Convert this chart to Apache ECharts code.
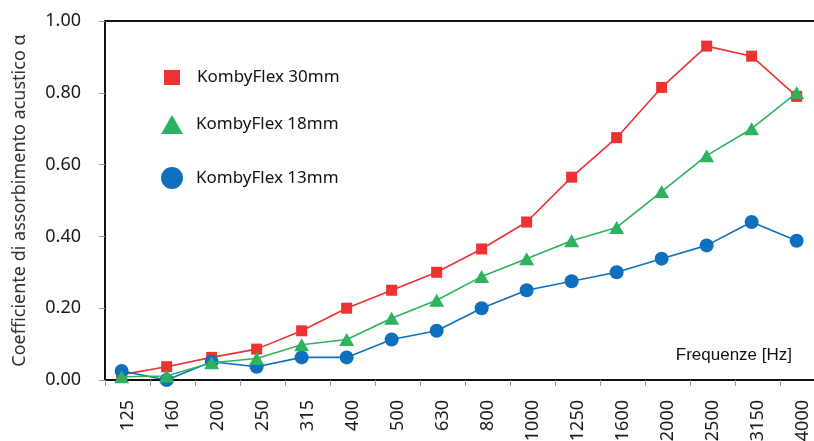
<!DOCTYPE html>
<html>
<head>
<meta charset="utf-8">
<script src="https://cdn.jsdelivr.net/npm/echarts@6/dist/echarts.min.js"></script>
<style>html,body{margin:0;padding:0;background:#fff;}#c{width:814px;height:441px;}</style>
</head>
<body>
<div id="c"></div>
<script>
const categories = ['125','160','200','250','315','400','500','630','800','1000','1250','1600','2000','2500','3150','4000'];
const seriesNames = ['KombyFlex 30mm','KombyFlex 18mm','KombyFlex 13mm'];
const kf30 = [0.015,0.037,0.063,0.086,0.137,0.200,0.250,0.300,0.365,0.440,0.565,0.675,0.815,0.930,0.902,0.790];
const kf18 = [0.009,0.011,0.048,0.060,0.098,0.113,0.172,0.222,0.288,0.338,0.388,0.425,0.525,0.625,0.700,0.800];
const kf13 = [0.025,0.000,0.051,0.037,0.063,0.063,0.113,0.137,0.200,0.250,0.275,0.300,0.338,0.375,0.440,0.388];
const yTicks = [0, 0.2, 0.4, 0.6, 0.8, 1.0];

const RED = '#EE3131', GREEN = '#2DB35E', BLUE = '#0E6FBC';
const FONT = 'Noto Sans';
const toPts = arr => arr.map((v, i) => [i, v]);

const chart = echarts.init(document.getElementById('c'), null, {renderer: 'canvas'});
const legendBase = {
  orient: 'vertical', padding: 0, selectedMode: false
};
const legendText = pad => ({fontFamily: FONT, fontSize: 17, color: '#111', padding: pad});
chart.setOption({
  animation: false,
  backgroundColor: '#fff',
  title: {
    text: 'Frequenze [Hz]', right: 22, top: 347, padding: 0,
    textStyle: {fontFamily: 'Liberation Sans', fontSize: 17, fontWeight: 'normal', color: '#111'}
  },
  legend: [
    Object.assign({}, legendBase, {left: 164, top: 69, itemWidth: 16, itemHeight: 15, textStyle: legendText([1, 0, 0, 12]),
      data: [{name: seriesNames[0], icon: 'rect'}]}),
    Object.assign({}, legendBase, {left: 161, top: 115, itemWidth: 22, itemHeight: 19, textStyle: legendText([6, 0, 0, 8]),
      data: [{name: seriesNames[1], icon: 'triangle'}]}),
    Object.assign({}, legendBase, {left: 161, top: 167, itemWidth: 22, itemHeight: 22, textStyle: legendText([0, 0, 0, 8]),
      data: [{name: seriesNames[2], icon: 'circle'}]})
  ],
  grid: {left: 105, right: -11, top: 21, bottom: 61, containLabel: false, outerBoundsMode: 'none'},
  xAxis: [
    {
      type: 'category', data: categories, position: 'bottom', boundaryGap: true,
      axisLine: {onZero: false, lineStyle: {color: '#111', width: 2}},
      axisTick: {show: true, length: 6, lineStyle: {color: '#999', width: 1}},
      axisLabel: {rotate: 90, margin: 20, fontFamily: FONT, fontSize: 18, color: '#1a1a1a', interval: 0},
      splitLine: {show: false}
    },
    {
      type: 'value', position: 'top', min: -0.37, max: 15.63,
      axisLine: {show: true, onZero: false, lineStyle: {color: '#111', width: 2}},
      axisTick: {show: false}, axisLabel: {show: false}, splitLine: {show: false}
    }
  ],
  yAxis: {
    type: 'value', min: yTicks[0], max: yTicks[yTicks.length - 1], interval: 0.2,
    name: 'Coefficiente di assorbimento acustico α', nameLocation: 'middle', nameGap: 76, nameRotate: 90,
    nameTextStyle: {fontFamily: FONT, fontSize: 18, color: '#333'},
    axisLine: {show: true, onZero: false, lineStyle: {color: '#111', width: 2}},
    axisTick: {show: true, length: 6, lineStyle: {color: '#999', width: 1}},
    axisLabel: {margin: 24, fontFamily: FONT, fontSize: 18, color: '#1a1a1a', formatter: v => v.toFixed(2)},
    splitLine: {show: false}
  },
  series: [
    {name: seriesNames[0], type: 'line', xAxisIndex: 1, data: toPts(kf30), symbol: 'rect', symbolSize: 11,
     lineStyle: {color: RED, width: 1.6}, itemStyle: {color: RED}, z: 2},
    {name: seriesNames[2], type: 'line', xAxisIndex: 1, data: toPts(kf13), symbol: 'circle', symbolSize: 14,
     lineStyle: {color: BLUE, width: 1.6}, itemStyle: {color: BLUE}, z: 3},
    {name: seriesNames[1], type: 'line', xAxisIndex: 1, data: toPts(kf18), symbol: 'triangle', symbolSize: [15, 13],
     lineStyle: {color: GREEN, width: 1.6}, itemStyle: {color: GREEN}, z: 4}
  ]
});
</script>
</body>
</html>
